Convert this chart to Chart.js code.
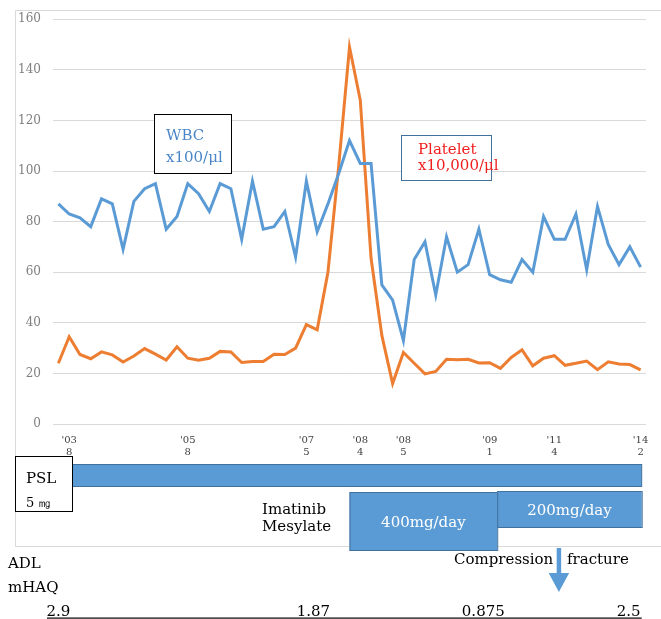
<!DOCTYPE html>
<html>
<head>
<meta charset="utf-8">
<script src="https://cdn.jsdelivr.net/npm/chart.js@4.4.1/dist/chart.umd.min.js"></script>
<style>
  html, body { margin: 0; padding: 0; background: #fff; }
  #wrap { width: 661px; height: 619px; }
</style>
</head>
<body>
<div id="wrap"><canvas id="myChart" width="661" height="619"></canvas></div>
<script>
// monthly values, 55 visits
const wbc = [87, 83, 81.5, 78, 89, 87, 69, 88, 93, 95, 77, 82, 95, 91, 84, 95, 93, 73, 96, 77,
  78, 84, 66, 96, 76, 87, 99, 112, 103, 103, 55, 49, 33, 65, 72, 51, 74, 60, 63, 77,
  59, 57, 56, 65, 60, 82, 73, 73, 83, 61, 86, 71, 63, 70, 62];
const platelet = [24, 34.5, 27.5, 25.8, 28.5, 27.3, 24.5, 26.9, 29.8, 27.6, 25.3, 30.5, 26, 25.2, 26, 28.7, 28.5, 24.3, 24.7, 24.7,
  27.6, 27.5, 30, 39.3, 37.2, 60, 102, 149, 128, 65.5, 35, 16, 28.3, 24, 19.8, 20.8, 25.6, 25.4, 25.6, 24.1,
  24.2, 22, 26.3, 29.3, 23, 26, 27, 23.2, 24, 24.9, 21.5, 24.6, 23.7, 23.5, 21.4];

// which visit gets a date label
const tickIdx = [1, 12, 23, 28, 32, 40, 46, 54];
const tickText = [["'03", '8'], ["'05", '8'], ["'07", '5'], ["'08", '4'], ["'08", '5'], ["'09", '1'], ["'11", '4'], ["'14", '2']];

// treatment periods (in visit index units)
const psl = [0, 54.1];
const imatinib400 = [27, 40.7];
const imatinib200 = [40.7, 54.1];
const fractureIdx = 46.4;

// mHAQ score and where it sits
const mhaq = ['2.9', '1.87', '0.875', '2.5'];
const mhaqIdx = [1.1, 25.2, 41.4, 54];

const labels = wbc.map((v, i) => {
  const k = tickIdx.indexOf(i);
  return k >= 0 ? tickText[k] : '';
});

const SERIF = '"DejaVu Serif", serif';
const BLUE = '#5b9bd5';
const EDGE = '#41719c';

const sheet = {
  id: 'sheet',
  beforeDraw(chart) {
    const ctx = chart.ctx;
    ctx.save();
    ctx.fillStyle = '#fff';
    ctx.fillRect(0, 0, chart.width, chart.height);
    ctx.strokeStyle = '#d9d9d9';
    ctx.lineWidth = 1;
    ctx.beginPath();
    ctx.moveTo(661, 10.5);
    ctx.lineTo(15.5, 10.5);
    ctx.lineTo(15.5, 546.5);
    ctx.lineTo(661, 546.5);
    ctx.stroke();
    ctx.restore();
  },
  afterDraw(chart) {
    const ctx = chart.ctx;
    const x = chart.scales.x;
    const x0 = x.getPixelForValue(0);
    const step = x.getPixelForValue(1) - x0;
    const px = (i) => x0 + i * step;

    ctx.save();
    ctx.lineWidth = 1;

    // legend boxes
    ctx.fillStyle = '#fff';
    ctx.fillRect(154.5, 114.5, 77, 59);
    ctx.strokeStyle = '#000';
    ctx.strokeRect(154.5, 114.5, 77, 59);
    ctx.font = '15px ' + SERIF;
    ctx.fillStyle = '#4a86c8';
    ctx.textAlign = 'left';
    ctx.fillText('WBC', 166, 140);
    ctx.fillText('x100/μl', 166, 162);

    ctx.fillStyle = '#fff';
    ctx.fillRect(401.5, 135.5, 90, 45);
    ctx.strokeStyle = EDGE;
    ctx.strokeRect(401.5, 135.5, 90, 45);
    ctx.fillStyle = '#f01e1e';
    ctx.fillText('Platelet', 418, 154);
    ctx.fillText('x10,000/μl', 418, 170);

    // PSL bar
    ctx.fillStyle = BLUE;
    ctx.strokeStyle = EDGE;
    ctx.fillRect(px(psl[0]), 464, px(psl[1]) - px(psl[0]), 23);
    ctx.strokeRect(px(psl[0]), 464.5, px(psl[1]) - px(psl[0]), 22);

    ctx.fillStyle = '#fff';
    ctx.fillRect(15.5, 456.5, 57, 55);
    ctx.strokeStyle = '#000';
    ctx.strokeRect(15.5, 456.5, 57, 55);
    ctx.fillStyle = '#000';
    ctx.font = '15px ' + SERIF;
    ctx.fillText('PSL', 26, 483);
    ctx.font = '13px ' + SERIF;
    ctx.fillText('5 ㎎', 26, 507);

    // imatinib
    ctx.fillStyle = BLUE;
    ctx.strokeStyle = EDGE;
    ctx.fillRect(px(imatinib400[0]), 492, px(imatinib400[1]) - px(imatinib400[0]), 59);
    ctx.strokeRect(px(imatinib400[0]) + 0.5, 492.5, px(imatinib400[1]) - px(imatinib400[0]), 58);
    ctx.fillStyle = BLUE;
    ctx.fillRect(px(imatinib200[0]), 491, px(imatinib200[1]) - px(imatinib200[0]), 37);
    ctx.strokeRect(px(imatinib200[0]) + 0.5, 491.5, px(imatinib200[1]) - px(imatinib200[0]), 36);

    ctx.font = '15px ' + SERIF;
    ctx.fillStyle = '#fff';
    ctx.textAlign = 'center';
    ctx.textBaseline = 'middle';
    ctx.fillText('400mg/day', (px(imatinib400[0]) + px(imatinib400[1])) / 2, 523);
    ctx.fillText('200mg/day', (px(imatinib200[0]) + px(imatinib200[1])) / 2, 511);

    ctx.textAlign = 'left';
    ctx.textBaseline = 'alphabetic';
    ctx.fillStyle = '#000';
    ctx.fillText('Imatinib', 262, 514);
    ctx.fillText('Mesylate', 262, 531);

    ctx.fillText('ADL', 8, 568);
    ctx.fillText('mHAQ', 8, 592);
    ctx.fillText('Compression', 454, 564);
    ctx.fillText('fracture', 567, 564);

    // fracture arrow
    const ax = px(fractureIdx);
    ctx.fillStyle = BLUE;
    ctx.fillRect(ax - 2, 548, 4.5, 26);
    ctx.beginPath();
    ctx.moveTo(ax - 10, 573);
    ctx.lineTo(ax + 10.5, 573);
    ctx.lineTo(ax + 0.2, 592);
    ctx.closePath();
    ctx.fill();

    // mHAQ row
    ctx.fillStyle = '#000';
    ctx.textAlign = 'right';
    mhaq.forEach((t, k) => ctx.fillText(t, px(mhaqIdx[k]), 616));
    ctx.fillRect(47, 617.5, px(54.1) - 47, 1.2);

    ctx.restore();
  }
};

window.addEventListener('DOMContentLoaded', () => {
  const ctx = document.getElementById('myChart').getContext('2d');

  const config = {
    type: 'line',
    data: {
      labels,
      datasets: [
        {
          label: 'WBC',
          data: wbc,
          borderColor: BLUE,
          borderWidth: 3,
          pointRadius: 0,
          tension: 0
        },
        {
          label: 'Platelet',
          data: platelet,
          borderColor: '#ed7d31',
          borderWidth: 3,
          pointRadius: 0,
          tension: 0
        }
      ]
    },
    options: {
      responsive: false,
      animation: false,
      layout: { padding: { left: 15, right: 15, top: 17, bottom: 159 } },
      plugins: { legend: { display: false }, tooltip: { enabled: false } },
      scales: {
        x: {
          offset: true,
          grid: { display: false, drawTicks: false },
          border: { display: false },
          ticks: {
            autoSkip: false,
            maxRotation: 0,
            padding: 10,
            color: '#404040',
            font: { family: SERIF, size: 10 }
          },
          afterFit: (s) => { s.height = 36; }
        },
        y: {
          min: 0,
          max: 160,
          grid: { color: '#d9d9d9', drawTicks: false },
          border: { display: false },
          ticks: {
            stepSize: 20,
            padding: 12,
            color: '#7f7f7f',
            font: { family: SERIF, size: 12 }
          },
          afterFit: (s) => { s.width = 38; }
        }
      }
    },
    plugins: [sheet]
  };

  const myChart = new Chart(ctx, config);
});
</script>
</body>
</html>
